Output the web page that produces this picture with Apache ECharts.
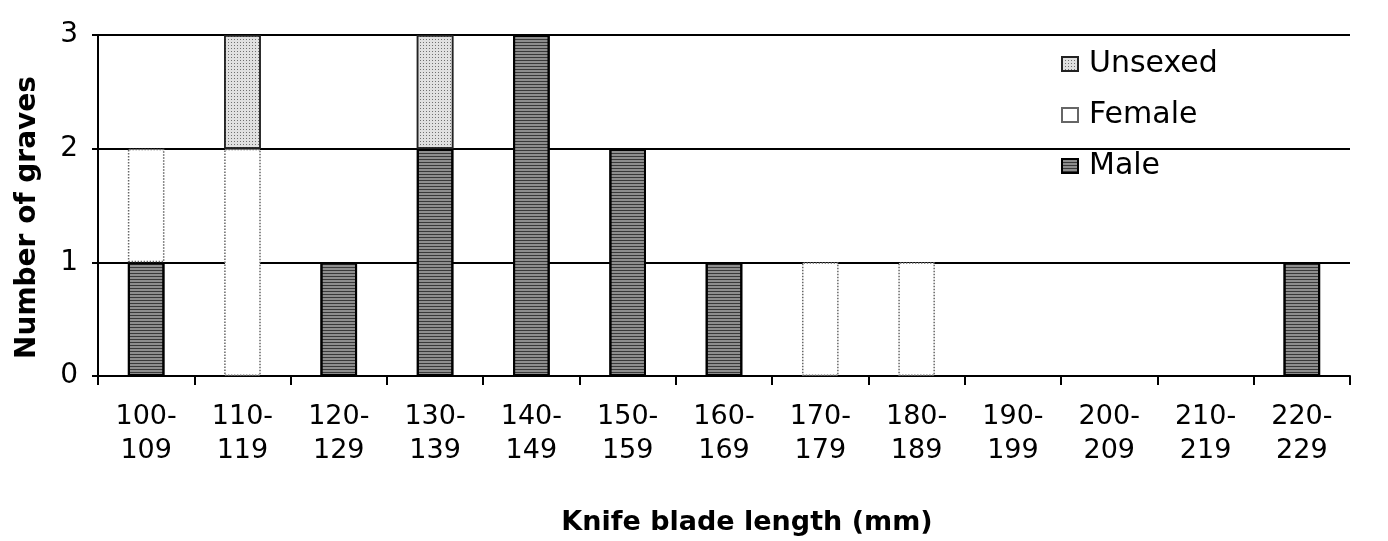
<!DOCTYPE html>
<html>
<head>
<meta charset="utf-8">
<script src="https://cdn.jsdelivr.net/npm/echarts@6/dist/echarts.min.js"></script>
<style>
html,body{margin:0;padding:0;background:#fff;}
#chart{width:1388px;height:541px;}
</style>
</head>
<body>
<div id="chart"></div>
<script>
var categories = ['100-\n109','110-\n119','120-\n129','130-\n139','140-\n149','150-\n159','160-\n169','170-\n179','180-\n189','190-\n199','200-\n209','210-\n219','220-\n229'];
var male    = [1,0,1,2,3,2,1,0,0,0,0,0,1];
var female  = [1,2,0,0,0,0,0,1,1,0,0,0,0];
var unsexed = [0,1,0,1,0,0,0,0,0,0,0,0,0];
var yTicks = [0,1,2,3];

function nz(arr){ return arr.map(function(v){ return v === 0 ? null : v; }); }

var chart = echarts.init(document.getElementById('chart'));
var font = 'DejaVu Sans';
chart.setOption({
  backgroundColor:'#fff',
  animation:false,
  textStyle:{fontFamily:font,color:'#000'},
  grid:{left:98,right:38,top:35,bottom:160,containLabel:false},
  legend:{
    orient:'vertical',
    left:1056,
    top:44,
    icon:'rect',
    itemWidth:16,
    itemHeight:14,
    itemGap:21,
    data:['Unsexed','Female','Male'],
    textStyle:{fontFamily:font,fontSize:30,color:'#000',padding:[0,0,0,6]}
  },
  xAxis:{
    type:'category',
    data:categories,
    name:'Knife blade length (mm)',
    nameLocation:'middle',
    nameGap:133,
    nameTextStyle:{fontFamily:font,fontSize:27,fontWeight:'bold',color:'#000',padding:[0,0,0,46]},
    axisLine:{lineStyle:{color:'#000',width:2}},
    axisTick:{show:true,length:9,lineStyle:{color:'#000',width:2}},
    axisLabel:{fontFamily:font,fontSize:27,color:'#000',lineHeight:34,margin:24,interval:0}
  },
  yAxis:{
    type:'value',
    min:yTicks[0],
    max:yTicks[yTicks.length-1],
    interval:1,
    name:'Number of graves',
    nameLocation:'middle',
    nameRotate:90,
    nameGap:56,
    nameTextStyle:{fontFamily:font,fontSize:28,fontWeight:'bold',color:'#000',padding:[0,0,0,-24]},
    axisLine:{show:true,lineStyle:{color:'#000',width:2}},
    axisTick:{show:true,length:6,lineStyle:{color:'#000',width:2}},
    axisLabel:{fontFamily:font,fontSize:28,color:'#000',margin:20},
    splitLine:{show:true,lineStyle:{color:'#000',width:2}}
  },
  series:[
    {
      name:'Male',type:'bar',stack:'a',barWidth:'38%',
      data:nz(male),
      itemStyle:{color:'#8e8e8e',borderColor:'#000',borderWidth:2,
        decal:{symbol:'rect',color:'rgba(0,0,0,0.6)',dashArrayX:[1,0],dashArrayY:[1,2],symbolSize:1}}
    },
    {
      name:'Female',type:'bar',stack:'a',barWidth:'38%',
      data:nz(female),
      itemStyle:{color:'#fff',borderColor:'#666',borderWidth:1.5,borderType:'dotted'}
    },
    {
      name:'Unsexed',type:'bar',stack:'a',barWidth:'38%',
      data:nz(unsexed),
      itemStyle:{color:'#e0e0e0',borderColor:'#222',borderWidth:1.5,
        decal:{symbol:'rect',color:'rgba(0,0,0,0.5)',dashArrayX:[1,2],dashArrayY:[1,2],symbolSize:1}}
    }
  ]
});
</script>
</body>
</html>
